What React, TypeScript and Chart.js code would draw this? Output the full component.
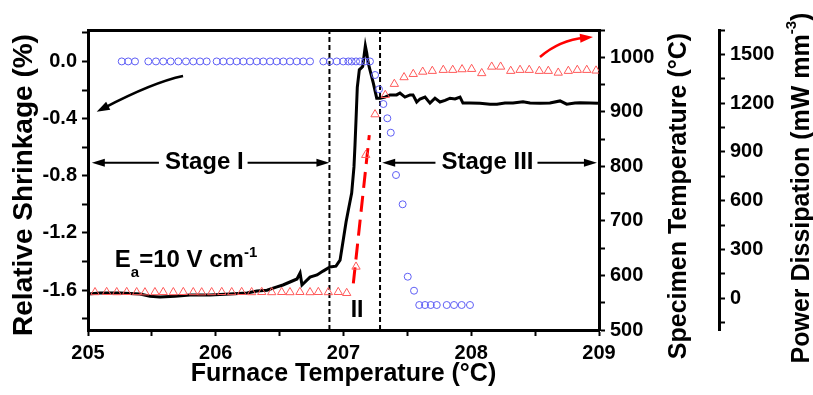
import React, { useEffect, useRef } from 'react';
import { Chart, registerables } from 'chart.js';

Chart.register(...registerables);

const FONT = "'Liberation Sans', Arial, Helvetica, sans-serif";

// ---- Relative shrinkage (blue circles, left axis) ----
const shrinkFurnaceT = [
  205.264, 205.315, 205.368, 205.472, 205.532, 205.589, 205.647, 205.707, 205.767, 205.824, 205.877, 205.929,
  206.007, 206.059, 206.112, 206.164, 206.216, 206.268, 206.321, 206.372, 206.425, 206.477, 206.529, 206.581,
  206.634, 206.685, 206.738, 206.842, 206.894, 206.947, 206.998, 207.038, 207.064, 207.098, 207.129, 207.168,
  207.207, 207.247, 207.278, 207.312, 207.343, 207.37, 207.411, 207.463, 207.503, 207.552, 207.593, 207.638,
  207.683, 207.73, 207.808, 207.865, 207.925, 207.99,
];
const shrinkage = [
  0, 0, 0, 0, 0, 0, 0, 0, 0, 0, 0, 0,
  0, 0, 0, 0, 0, 0, 0, 0, 0, 0, 0, 0,
  0, 0, 0, 0, 0, 0, 0, 0, 0, 0, 0, 0,
  0, -0.095, -0.195, -0.298, -0.398, -0.499, -0.795, -1.0, -1.507, -1.605, -1.705, -1.705,
  -1.705, -1.705, -1.705, -1.705, -1.705, -1.705,
];

// ---- Specimen temperature (black line, right axis) ----
const specFurnaceT = [
  205.0, 205.094, 205.25, 205.407, 205.485, 205.564, 205.681, 205.798, 205.955, 206.111, 206.245, 206.323,
  206.401, 206.479, 206.526, 206.581, 206.636, 206.66, 206.675, 206.738, 206.793, 206.84, 206.894, 206.941,
  206.973, 206.998, 207.02, 207.038, 207.064, 207.082, 207.09, 207.098, 207.108, 207.124, 207.15, 207.16,
  207.171, 207.182, 207.192, 207.207, 207.233, 207.26, 207.286, 207.325, 207.364, 207.416, 207.442, 207.481,
  207.521, 207.544, 207.573, 207.599, 207.638, 207.677, 207.716, 207.755, 207.795, 207.834, 207.873, 207.912,
  207.935, 207.99, 208.068, 208.147, 208.201, 208.264, 208.327, 208.405, 208.46, 208.538, 208.616, 208.695,
  208.747, 208.812, 208.851, 208.93, 208.992,
];
const specimenTemp = [
  566, 568, 568, 566, 562, 560.5, 562, 564, 564, 566, 568, 571.5,
  573, 579, 582.5, 588, 593.5, 604.5, 582.5, 597, 601, 608, 615.5, 617,
  628, 665, 698, 720, 751, 799, 839, 885, 945, 977, 983, 1001,
  1021, 1008, 991, 977, 953, 925, 925, 927, 931, 931, 934.5, 927,
  931, 931, 918, 923.5, 927, 916, 925, 918, 921, 925, 923.5, 927,
  916, 916, 915.6, 914, 914, 916, 916, 918.5, 916, 915.6, 916, 920,
  914, 916, 916.7, 916, 915.6,
];

// ---- Power dissipation (red triangles, far right axis) ----
const powerFurnaceT = [
  205.055, 205.146, 205.225, 205.303, 205.381, 205.446, 205.524, 205.589, 205.668, 205.746, 205.824, 205.89,
  205.968, 206.047, 206.125, 206.203, 206.281, 206.36, 206.438, 206.516, 206.581, 206.659, 206.738, 206.803,
  206.881, 206.959, 207.025, 207.098, 207.174, 207.247, 207.327, 207.398, 207.474, 207.546, 207.62, 207.695,
  207.781, 207.855, 207.928, 208.003, 208.082, 208.16, 208.23, 208.309, 208.382, 208.454, 208.533, 208.603,
  208.681, 208.76, 208.83, 208.904, 208.977,
];
const powerDissipation = [
  37, 38, 37, 38, 37, 36, 37, 38, 37, 38, 37, 36,
  37, 38, 37, 38, 37, 38, 37, 38, 37, 38, 37, 38,
  37, 38, 32, 194, 881, 1131, 1250, 1318, 1359, 1379, 1393, 1398,
  1404, 1404, 1408, 1410, 1384, 1424, 1424, 1398, 1404, 1404, 1398, 1398,
  1387, 1398, 1404, 1404, 1400,
];

// ---- Dashed red trend through the flash event ----
const trendFurnaceT = [207.077, 207.202];
const trendPower = [92, 1004];

// ---- Stage boundaries (dashed vertical lines) ----
const stageBoundaries = [206.89, 207.286];

// ---- Axis ranges ----
const xRange = [205, 209];
const shrinkRange = [-1.88, 0.22];
const specRange = [500, 1050];
const powerRange = [-195, 1650];

// ---- Annotation anchors (data units: furnace T, shrinkage) ----
const stageArrowY = -0.71;
const stage1Span = [205.03, 206.89];
const stage1LabelX = 205.91;
const stage3Span = [207.303, 208.984];
const stage3LabelX = 208.127;
const stage2Label = [207.106, -1.744];
const fieldLabel = [205.21, -1.44];
const shrinkArrow = [[205.744, -0.102], [205.513, -0.145], [205.068, -0.352]];
const powerArrow = [[208.538, 0.031], [208.691, 0.15], [208.953, 0.171]];

const zip = (xs: number[], ys: number[]) => xs.map((x, i) => ({ x, y: ys[i] }));

function arrowHead(ctx: CanvasRenderingContext2D, tx: number, ty: number, ang: number, len: number, w: number) {
  ctx.beginPath();
  ctx.moveTo(tx, ty);
  ctx.lineTo(tx - len * Math.cos(ang) + (w / 2) * Math.sin(ang), ty - len * Math.sin(ang) - (w / 2) * Math.cos(ang));
  ctx.lineTo(tx - len * Math.cos(ang) - (w / 2) * Math.sin(ang), ty - len * Math.sin(ang) + (w / 2) * Math.cos(ang));
  ctx.closePath();
  ctx.fill();
}

function straightArrow(ctx: CanvasRenderingContext2D, x1: number, y1: number, x2: number, y2: number) {
  const ang = Math.atan2(y2 - y1, x2 - x1);
  ctx.beginPath();
  ctx.moveTo(x1, y1);
  ctx.lineTo(x2 - 8 * Math.cos(ang), y2 - 8 * Math.sin(ang));
  ctx.lineWidth = 2;
  ctx.stroke();
  arrowHead(ctx, x2, y2, ang, 13, 8);
}

function curvedArrow(ctx: CanvasRenderingContext2D, p: number[][], color: string) {
  const [a, c, b] = p;
  ctx.strokeStyle = color;
  ctx.fillStyle = color;
  ctx.lineWidth = 2.5;
  const ang = Math.atan2(b[1] - c[1], b[0] - c[0]);
  ctx.beginPath();
  ctx.moveTo(a[0], a[1]);
  ctx.quadraticCurveTo(c[0], c[1], b[0] - 8 * Math.cos(ang), b[1] - 8 * Math.sin(ang));
  ctx.stroke();
  arrowHead(ctx, b[0], b[1], ang, 13, 9);
}

const overlay = {
  id: 'overlay',
  afterDraw(chart: any) {
    const ctx: CanvasRenderingContext2D = chart.ctx;
    const sx = chart.scales.x;
    const sy = chart.scales.y;
    const s1 = chart.scales.y1;
    const s2 = chart.scales.y2;
    const ca = chart.chartArea;
    const px = (v: number) => sx.getPixelForValue(v);
    const py = (v: number) => sy.getPixelForValue(v);
    ctx.save();
    ctx.fillStyle = '#000';
    ctx.strokeStyle = '#000';

    // Axis titles
    ctx.textAlign = 'center';
    ctx.textBaseline = 'middle';
    ctx.font = `bold 25px ${FONT}`;
    ctx.fillText('Furnace Temperature (°C)', (ca.left + ca.right) / 2, sx.bottom - 21);

    ctx.save();
    ctx.translate(sy.left + 24, (ca.top + ca.bottom) / 2 + 5);
    ctx.rotate(-Math.PI / 2);
    ctx.font = `bold 28px ${FONT}`;
    ctx.fillText('Relative Shrinkage (%)', 0, 0);
    ctx.restore();

    ctx.save();
    ctx.translate(s1.left + 80, (ca.top + ca.bottom) / 2 + 16);
    ctx.rotate(-Math.PI / 2);
    ctx.font = `bold 25px ${FONT}`;
    ctx.fillText('Specimen Temperature (°C)', 0, 0);
    ctx.restore();

    ctx.save();
    ctx.translate(s2.left + 83, (ca.top + ca.bottom) / 2 + 8);
    ctx.rotate(-Math.PI / 2);
    ctx.textAlign = 'left';
    const t1 = 'Power Dissipation (mW mm';
    const t2 = '-3';
    const t3 = ')';
    ctx.font = `bold 25px ${FONT}`;
    const w1 = ctx.measureText(t1).width;
    const w3 = ctx.measureText(t3).width;
    ctx.font = `bold 15px ${FONT}`;
    const w2 = ctx.measureText(t2).width;
    let cx = -(w1 + w2 + w3) / 2;
    ctx.font = `bold 25px ${FONT}`;
    ctx.fillText(t1, cx, 0);
    cx += w1;
    ctx.font = `bold 15px ${FONT}`;
    ctx.fillText(t2, cx, -10);
    cx += w2;
    ctx.font = `bold 25px ${FONT}`;
    ctx.fillText(t3, cx, 0);
    ctx.restore();

    // Stage labels with arrows
    ctx.font = `bold 24px ${FONT}`;
    ctx.textAlign = 'center';
    ctx.textBaseline = 'middle';
    const ay = py(stageArrowY);
    const stage = (label: string, lx: number, span: number[]) => {
      const cxp = px(lx);
      const w = ctx.measureText(label).width;
      ctx.fillText(label, cxp, ay);
      straightArrow(ctx, cxp - w / 2 - 6, ay, px(span[0]), ay);
      straightArrow(ctx, cxp + w / 2 + 4, ay, px(span[1]), ay);
    };
    stage('Stage I', stage1LabelX, stage1Span);
    stage('Stage III', stage3LabelX, stage3Span);

    ctx.font = `bold 23px ${FONT}`;
    ctx.fillText('II', px(stage2Label[0]), py(stage2Label[1]));

    // E_a = 10 V cm^-1
    ctx.textAlign = 'left';
    ctx.textBaseline = 'alphabetic';
    let fx = px(fieldLabel[0]);
    const fy = py(fieldLabel[1]);
    ctx.font = `bold 24px ${FONT}`;
    ctx.fillText('E', fx, fy);
    fx += ctx.measureText('E').width;
    ctx.font = `bold 15px ${FONT}`;
    ctx.fillText('a', fx, fy + 10);
    fx += ctx.measureText('a').width;
    ctx.font = `bold 24px ${FONT}`;
    ctx.fillText('=10 V cm', fx, fy);
    fx += ctx.measureText('=10 V cm').width;
    ctx.font = `bold 15px ${FONT}`;
    ctx.fillText('-1', fx, fy - 10);

    // Curved pointer arrows
    curvedArrow(ctx, shrinkArrow.map(p => [px(p[0]), py(p[1])]), '#000');
    curvedArrow(ctx, powerArrow.map(p => [px(p[0]), py(p[1])]), '#ff0000');

    ctx.restore();
  },
};

const tickFont = { family: FONT, size: 20, weight: 'bold' as const };
const gridOpts = { drawOnChartArea: false, drawTicks: true, tickLength: 6, tickWidth: 2, tickColor: '#000' };
const borderOpts = { color: '#000', width: 3 };
const near = (v: number, step: number) => Math.abs(v / step - Math.round(v / step)) < 1e-6;

export default function App() {
  const ref = useRef<HTMLCanvasElement>(null);
  useEffect(() => {
    document.body.style.margin = '0';
    const canvas = ref.current!;
    const chart = new Chart(canvas, {
      type: 'line',
      data: {
        datasets: [
          {
            label: 'Relative shrinkage',
            data: zip(shrinkFurnaceT, shrinkage),
            yAxisID: 'y',
            showLine: false,
            pointStyle: 'circle',
            pointRadius: 3.5,
            pointBorderWidth: 1,
            pointBorderColor: '#5f5ff5',
            pointBackgroundColor: 'rgba(0,0,0,0)',
            borderColor: '#5f5ff5',
          },
          {
            label: 'Power dissipation',
            data: zip(powerFurnaceT, powerDissipation),
            yAxisID: 'y2',
            showLine: false,
            pointStyle: 'triangle',
            pointRadius: 4.8,
            pointBorderWidth: 1,
            pointBorderColor: '#ff5a5a',
            pointBackgroundColor: 'rgba(0,0,0,0)',
            borderColor: '#ff5a5a',
          },
          {
            label: 'Trend',
            data: zip(trendFurnaceT, trendPower),
            yAxisID: 'y2',
            borderColor: '#ff0000',
            borderWidth: 3,
            borderDash: [16, 8],
            pointRadius: 0,
          },
          {
            label: 'Specimen temperature',
            data: zip(specFurnaceT, specimenTemp),
            yAxisID: 'y1',
            borderColor: '#000',
            borderWidth: 3,
            pointRadius: 0,
            tension: 0,
          },
          ...stageBoundaries.map((b, i) => ({
            label: 'Boundary ' + (i + 1),
            data: [{ x: b, y: shrinkRange[0] }, { x: b, y: shrinkRange[1] }],
            yAxisID: 'y',
            borderColor: '#000',
            borderWidth: 2,
            borderDash: [5, 3],
            pointRadius: 0,
          })),
        ],
      },
      options: {
        responsive: false,
        animation: false,
        events: [],
        layout: { padding: 0 },
        plugins: { legend: { display: false }, tooltip: { enabled: false } },
        scales: {
          x: {
            type: 'linear',
            position: 'bottom',
            min: xRange[0],
            max: xRange[1],
            ticks: {
              stepSize: 0.5,
              autoSkip: false,
              maxRotation: 0,
              padding: 5,
              color: '#000',
              font: tickFont,
              callback: (v: any) => (near(Number(v), 1) ? String(Math.round(Number(v))) : ''),
            },
            grid: gridOpts,
            border: borderOpts,
            afterFit: (s: any) => { s.height = 65; },
          },
          xTop: {
            type: 'linear',
            position: 'top',
            min: xRange[0],
            max: xRange[1],
            ticks: { display: false },
            grid: { drawOnChartArea: false, drawTicks: false },
            border: borderOpts,
            afterFit: (s: any) => { s.height = 30; },
          },
          y: {
            type: 'linear',
            position: 'left',
            min: shrinkRange[0],
            max: shrinkRange[1],
            ticks: {
              stepSize: 0.2,
              includeBounds: false,
              autoSkip: false,
              padding: 5,
              color: '#000',
              font: tickFont,
              callback: (v: any) => (near(Number(v), 0.4) ? (Math.round(Number(v) * 10) / 10 || 0).toFixed(1) : ''),
            },
            grid: gridOpts,
            border: borderOpts,
            afterFit: (s: any) => { s.width = 88; },
          },
          y1: {
            type: 'linear',
            position: 'right',
            min: specRange[0],
            max: specRange[1],
            ticks: {
              stepSize: 50,
              includeBounds: false,
              autoSkip: false,
              padding: 5,
              color: '#000',
              font: tickFont,
              callback: (v: any) => (near(Number(v), 100) ? String(Math.round(Number(v))) : ''),
            },
            grid: gridOpts,
            border: borderOpts,
            afterFit: (s: any) => { s.width = 120; },
          },
          y2: {
            type: 'linear',
            position: 'right',
            min: powerRange[0],
            max: powerRange[1],
            ticks: {
              stepSize: 150,
              includeBounds: false,
              autoSkip: false,
              padding: 5,
              color: '#000',
              font: tickFont,
              callback: (v: any) => (near(Number(v), 300) ? String(Math.round(Number(v))) : ''),
            },
            grid: gridOpts,
            border: borderOpts,
            afterFit: (s: any) => { s.width = 94; },
          },
        },
      } as any,
      plugins: [overlay],
    });
    return () => chart.destroy();
  }, []);
  return <canvas ref={ref} width={813} height={395} style={{ display: 'block', width: 813, height: 395 }} />;
}
